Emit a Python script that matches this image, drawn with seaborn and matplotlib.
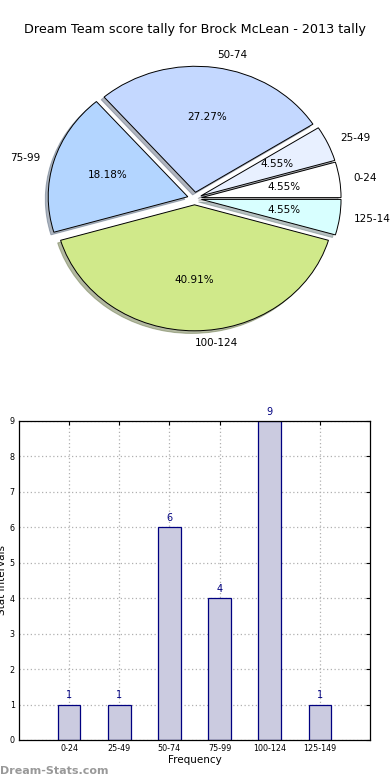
import numpy as np
import pandas as pd
import matplotlib
matplotlib.use("Agg")
import matplotlib.pyplot as plt
import seaborn as sns

# score intervals and how many games fell in each
intervals = ["0-24", "25-49", "50-74", "75-99", "100-124", "125-149"]
counts = [1, 1, 6, 4, 9, 1]
pie_colors = ["#ffffff", "#e8f0ff", "#c4d8ff", "#b3d5ff", "#d0e98a", "#d8ffff"]

df = pd.DataFrame({"interval": intervals, "count": counts})

sns.set_style("white")
plt.rcParams["font.family"] = ["DejaVu Sans"]
# old-matplotlib look: black text and ticks
plt.rcParams["text.color"] = "black"
plt.rcParams["axes.labelcolor"] = "black"
plt.rcParams["xtick.color"] = "black"
plt.rcParams["ytick.color"] = "black"

fig = plt.figure(figsize=(3.9, 7.8), dpi=100)

# pie on top
ax1 = fig.add_axes([0.0513, 0.5436, 0.8949, 0.4038])
wedges, texts, autotexts = ax1.pie(
    df["count"], labels=df["interval"], colors=pie_colors,
    explode=[0.05] * len(counts), autopct="%.2f%%",
    shadow=dict(ox=-0.015, oy=-0.015, shade=0.5),
    startangle=0, wedgeprops=dict(edgecolor="black", linewidth=0.7),
    textprops=dict(fontsize=7.5, color="black"))
ax1.set_aspect("auto")
ax1.set_xlim(-1.25, 1.25)
ax1.set_ylim(-1.25, 1.25)

fig.text(0.5, 1 - 30 / 780, "Dream Team score tally for Brock McLean - 2013 tally",
         ha="center", va="center", fontsize=9.2, color="black")

# bar chart at the bottom
ax2 = fig.add_axes([0.0487, 0.0513, 0.9, 0.409])
sns.barplot(data=df, x="interval", y="count", width=0.45, color="#cbcbe0",
            saturation=1, edgecolor="navy", linewidth=0.9, ax=ax2, zorder=2)
for i, c in enumerate(counts):
    ax2.text(i, c + 0.12, str(c), ha="center", va="bottom", color="navy", fontsize=7)

ax2.set_xlim(-1, 6)
ax2.set_ylim(0, 9)
ax2.set_yticks(range(10))
ax2.grid(True, linestyle=(0, (1, 2)), color="#b0b0b0", linewidth=0.9, zorder=0)
ax2.set_axisbelow(True)
ax2.tick_params(direction="in", top=True, right=True, labelsize=5.8, length=3, pad=3)
for s in ax2.spines.values():
    s.set_color("black")
    s.set_linewidth(0.9)
ax2.set_xlabel("Frequency", fontsize=7.5, labelpad=1)
ax2.set_ylabel("Stat Intervals", fontsize=7.5, labelpad=2)

fig.text(0.0, 1 - 771 / 780, "Dream-Stats.com", color="#999999",
         fontsize=8, fontweight="bold", ha="left", va="center")

fig.savefig("out.png", dpi=100)
